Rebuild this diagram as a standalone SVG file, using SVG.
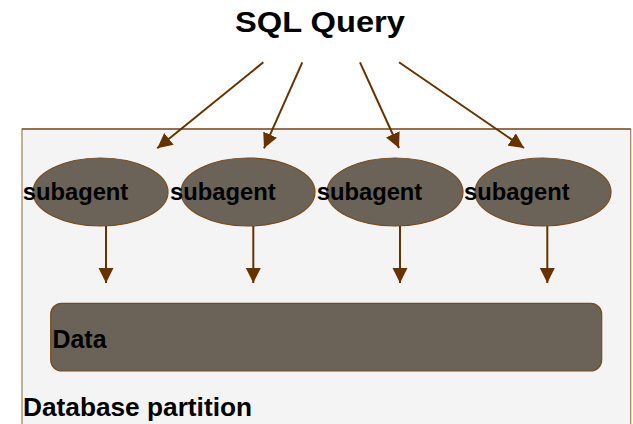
<svg xmlns="http://www.w3.org/2000/svg" width="633" height="424" viewBox="0 0 633 424">
<defs>
<style>
.lbl{font-family:"Liberation Sans",Arial,sans-serif;font-weight:bold;fill:#000}
.sa{font-size:24px}
.node{fill:#6b6358;stroke:#7a4a1a;stroke-width:1.2}
.conn{stroke:#663300;stroke-width:2;fill:none;marker-end:url(#ah)}
</style>
<marker id="ah" markerUnits="userSpaceOnUse" markerWidth="16" markerHeight="16" refX="15" refY="7.5" orient="auto">
<path d="M0,0 L15,7.5 L0,15 z" fill="#663300"/>
</marker>
</defs>
<rect width="633" height="424" fill="#fff"/>
<g id="partition">
<rect x="22" y="129" width="608.7" height="300" fill="#f4f4f4" stroke="#a0805a" stroke-width="1.2"/>
<line x1="22" y1="129" x2="630.7" y2="129" stroke="#663300" stroke-width="1.2"/>
<text class="lbl" x="23" y="416" font-size="26" textLength="229" lengthAdjust="spacingAndGlyphs">Database partition</text>
</g>
<g id="title">
<text class="lbl" x="235" y="32" font-size="29" textLength="170" lengthAdjust="spacingAndGlyphs">SQL Query</text>
</g>
<g id="data">
<rect class="node" x="50.7" y="303.3" width="551" height="67.7" rx="11" ry="11"/>
<text class="lbl" x="52.5" y="348.3" font-size="25" textLength="54" lengthAdjust="spacingAndGlyphs">Data</text>
</g>
<g id="subagent1">
<ellipse class="node" cx="100.5" cy="192" rx="67.5" ry="34"/>
<text class="lbl sa" x="22.7" y="200" textLength="105.6" lengthAdjust="spacingAndGlyphs">subagent</text>
</g>
<g id="subagent2">
<ellipse class="node" cx="248" cy="192" rx="67" ry="34"/>
<text class="lbl sa" x="170" y="200" textLength="105.6" lengthAdjust="spacingAndGlyphs">subagent</text>
</g>
<g id="subagent3">
<ellipse class="node" cx="395" cy="192" rx="68" ry="34"/>
<text class="lbl sa" x="316.7" y="200" textLength="105.6" lengthAdjust="spacingAndGlyphs">subagent</text>
</g>
<g id="subagent4">
<ellipse class="node" cx="543" cy="192" rx="68" ry="34"/>
<text class="lbl sa" x="464" y="200" textLength="105.6" lengthAdjust="spacingAndGlyphs">subagent</text>
</g>
<g id="connectors">
<line class="conn" x1="263.3" y1="62.3" x2="157.3" y2="148.3"/>
<line class="conn" x1="302.3" y1="62.3" x2="264" y2="148.3"/>
<line class="conn" x1="360" y1="62.3" x2="399" y2="148"/>
<line class="conn" x1="399" y1="62.3" x2="524" y2="148"/>
<line class="conn" x1="106" y1="226" x2="106" y2="283"/>
<line class="conn" x1="253.3" y1="226" x2="253.3" y2="283"/>
<line class="conn" x1="400" y1="226" x2="400" y2="283"/>
<line class="conn" x1="547.3" y1="226" x2="547.3" y2="283"/>
</g>
</svg>
